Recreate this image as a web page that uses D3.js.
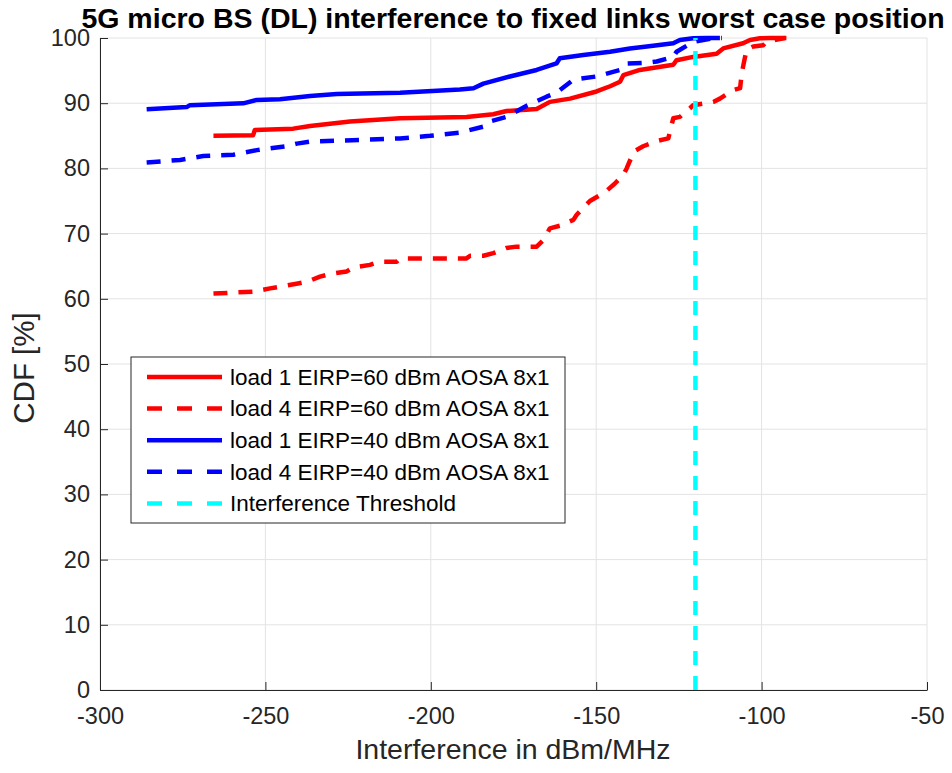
<!DOCTYPE html>
<html>
<head>
<meta charset="utf-8">
<script src="https://cdn.jsdelivr.net/npm/d3@7"></script>
<style>
  body { margin: 0; background: #fff; }
  svg { font-family: "Liberation Sans", Arial, sans-serif; }
  .grid line { stroke: #e3e3e3; stroke-width: 1; }
  .axis path, .axis line { stroke: #262626; }
  .axis text { fill: #262626; font-size: 23.5px; }
</style>
</head>
<body>
<script>
(function(){
    //series values (x in dBm/MHz, y in %)
    var redSolidX = [-265.7, -253.7, -253.2, -241.6, -236.5, -224.4, -209.3, -189.2, -181.1, -177.1, -168.0, -164.0, -157.9, -149.9, -145.8, -142.8, -141.8, -136.8, -126.7, -125.7, -120.7, -113.6, -111.6, -105.6, -103.5, -100.5, -97.5, -92.5];
    var redSolidY = [85.0, 85.1, 85.9, 86.1, 86.5, 87.2, 87.7, 87.9, 88.3, 88.8, 89.1, 90.2, 90.7, 91.8, 92.6, 93.3, 94.3, 95.1, 95.9, 96.6, 97.1, 97.6, 98.4, 99.2, 99.7, 99.95, 100, 100];

    var redDashX = [-265.7, -253.7, -248.6, -240.6, -237.5, -233.5, -230.5, -225.4, -223.4, -218.4, -215.4, -210.3, -209.3, -189.2, -188.1, -184.1, -181.1, -177.1, -174.1, -168.0, -166.0, -164.0, -161.0, -156.9, -155.9, -151.9, -147.5, -144.5, -141.8, -140.8, -138.6, -135.8, -131.7, -128.2, -126.7, -124.7, -121.7, -120.7, -114.6, -112.6, -108.6, -106.5, -106.0, -105.0, -104.5, -102.5, -99.5, -98.5, -96.0, -93.0];
    var redDashY = [60.8, 61.1, 61.6, 62.3, 62.6, 63.4, 63.8, 64.2, 64.8, 65.2, 65.7, 65.7, 66.2, 66.2, 66.6, 66.6, 67.0, 67.8, 68.0, 68.0, 69.0, 70.8, 71.2, 72.1, 72.9, 75.0, 76.3, 77.6, 79.0, 80.0, 82.6, 83.4, 84.2, 84.6, 87.7, 87.9, 89.2, 89.7, 90.2, 90.7, 92.0, 92.3, 94.6, 97.1, 98.2, 98.7, 98.9, 99.4, 99.7, 100];

    var blueSolidX = [-285.9, -273.8, -272.8, -256.7, -252.6, -245.6, -236.5, -228.4, -209.3, -191.2, -187.1, -184.1, -176.1, -168.0, -162.0, -161.0, -153.9, -145.8, -139.8, -132.8, -126.7, -124.7, -120.7, -116.6, -112.6];
    var blueSolidY = [89.06, 89.4, 89.7, 89.98, 90.5, 90.6, 91.1, 91.4, 91.6, 92.1, 92.3, 93.0, 94.1, 95.1, 96.1, 96.9, 97.4, 97.9, 98.4, 98.8, 99.2, 99.7, 99.95, 100, 100];

    var blueDashX = [-285.9, -275.8, -268.8, -259.7, -252.6, -243.6, -240.5, -236.5, -209.3, -200.2, -191.2, -184.1, -182.1, -177.1, -171.0, -165.0, -162.0, -156.9, -149.9, -142.8, -140.8, -134.8, -131.7, -126.7, -125.7, -120.7, -117.6, -114.6, -112.0];
    var blueDashY = [80.9, 81.3, 81.9, 82.1, 82.8, 83.4, 83.8, 84.1, 84.6, 85.0, 85.5, 86.4, 87.2, 87.9, 89.6, 91.0, 91.6, 93.6, 94.1, 95.1, 96.1, 96.2, 96.4, 97.1, 97.9, 99.4, 99.7, 99.95, 100];

    var thresholdX = [-120, -120];
    var thresholdY = [0, 100];

    var seriesNames = [
        "load 1 EIRP=60 dBm AOSA 8x1",
        "load 4 EIRP=60 dBm AOSA 8x1",
        "load 1 EIRP=40 dBm AOSA 8x1",
        "load 4 EIRP=40 dBm AOSA 8x1",
        "Interference Threshold"
    ];
    var seriesColors = ["#ff0000", "#ff0000", "#0000ff", "#0000ff", "#00ffff"];
    var seriesDashed = [false, true, false, true, true];
    var seriesXs = [redSolidX, redDashX, blueSolidX, blueDashX, thresholdX];
    var seriesYs = [redSolidY, redDashY, blueSolidY, blueDashY, thresholdY];

    var xTicks = [-300, -250, -200, -150, -100, -50];
    var yTicks = [0, 10, 20, 30, 40, 50, 60, 70, 80, 90, 100];

    //frame dimensions
    var width = 952, height = 773;
    var left = 100, right = 927, top = 38, bottom = 690;
    var dash = "14,11";

    var svg = d3.select("body").append("svg")
        .attr("width", width)
        .attr("height", height);

    var x = d3.scaleLinear().domain([-300, -50]).range([left, right]);
    var y = d3.scaleLinear().domain([0, 100]).range([bottom, top]);

    //grid lines
    var grid = svg.append("g").attr("class", "grid");
    grid.selectAll(".gx").data(xTicks).enter().append("line")
        .attr("x1", d => x(d)).attr("x2", d => x(d))
        .attr("y1", top).attr("y2", bottom);
    grid.selectAll(".gy").data(yTicks).enter().append("line")
        .attr("x1", left).attr("x2", right)
        .attr("y1", d => y(d)).attr("y2", d => y(d));

    //axes with inward ticks, plain hyphen minus signs
    var xAxis = d3.axisBottom(x).tickValues(xTicks).tickFormat(d => String(d))
        .tickSize(-8).tickPadding(17).tickSizeOuter(0);
    var yAxis = d3.axisLeft(y).tickValues(yTicks).tickFormat(d => String(d))
        .tickSize(-8).tickPadding(10).tickSizeOuter(0);

    svg.append("g").attr("class", "axis")
        .attr("transform", "translate(0," + bottom + ")")
        .call(xAxis);
    svg.append("g").attr("class", "axis")
        .attr("transform", "translate(" + left + ",0)")
        .call(yAxis);

    //data lines
    var line = d3.line()
        .x(d => x(d[0]))
        .y(d => y(d[1]));

    seriesXs.forEach(function(xs, i){
        var pts = xs.map((v, j) => [v, seriesYs[i][j]]);
        svg.append("path")
            .datum(pts)
            .attr("d", line)
            .attr("fill", "none")
            .attr("stroke", seriesColors[i])
            .attr("stroke-width", 4.5)
            .attr("stroke-linejoin", "round")
            .attr("stroke-dasharray", seriesDashed[i] ? dash : null);
    });

    //legend
    var lg = svg.append("g").attr("transform", "translate(131,357)");
    lg.append("rect")
        .attr("width", 434).attr("height", 166)
        .attr("fill", "#fff").attr("stroke", "#262626").attr("stroke-width", 1);
    seriesNames.forEach(function(name, i){
        var yy = 20 + i * 31.6;
        lg.append("line")
            .attr("x1", 16).attr("x2", 91)
            .attr("y1", yy).attr("y2", yy)
            .attr("stroke", seriesColors[i])
            .attr("stroke-width", 4.5)
            .attr("stroke-dasharray", seriesDashed[i] ? "15,15" : null);
        lg.append("text")
            .attr("x", 99).attr("y", yy)
            .attr("dy", "0.35em")
            .attr("font-size", 22.5)
            .attr("fill", "#000")
            .text(name);
    });

    //title and axis labels
    svg.append("text")
        .attr("x", 513).attr("y", 28)
        .attr("text-anchor", "middle")
        .attr("font-size", 28.5)
        .attr("font-weight", "bold")
        .attr("fill", "#000")
        .text("5G micro BS (DL) interference to fixed links worst case position");

    svg.append("text")
        .attr("x", 513).attr("y", 759)
        .attr("text-anchor", "middle")
        .attr("font-size", 28.5)
        .attr("fill", "#262626")
        .text("Interference in dBm/MHz");

    svg.append("text")
        .attr("transform", "translate(34,368) rotate(-90)")
        .attr("text-anchor", "middle")
        .attr("font-size", 29.5)
        .attr("fill", "#262626")
        .text("CDF [%]");
})();
</script>
</body>
</html>
